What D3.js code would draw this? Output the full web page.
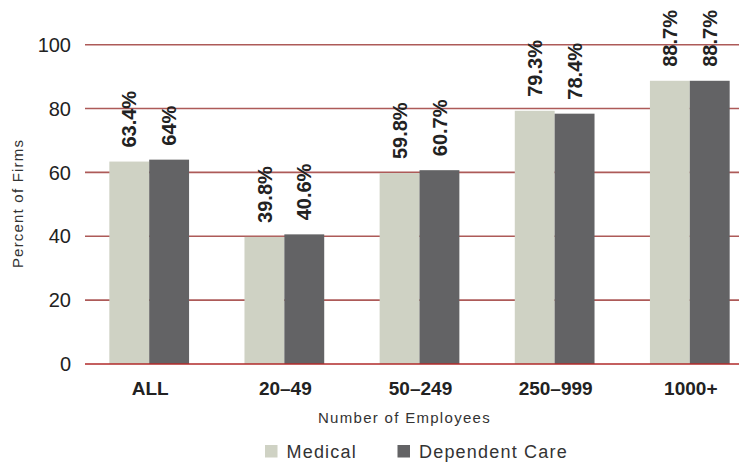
<!DOCTYPE html>
<html>
<head>
<meta charset="utf-8">
<script src="https://cdn.jsdelivr.net/npm/d3@7/dist/d3.min.js"></script>
<style>
  html, body { margin: 0; padding: 0; background: #fff; }
  svg { display: block; font-family: "Liberation Sans", Arial, Helvetica, sans-serif; }
</style>
</head>
<body>
<svg id="chart" width="739" height="464"></svg>
<script>
// Share of firms offering flexible spending accounts, by firm size
const categories = ["ALL", "20–49", "50–249", "250–999", "1000+"];
const seriesNames = ["Medical", "Dependent Care"];
const medical = [63.4, 39.8, 59.8, 79.3, 88.7];
const dependentCare = [64, 40.6, 60.7, 78.4, 88.7];
const yTicks = [0, 20, 40, 60, 80, 100];

const colors = { "Medical": "#cfd2c4", "Dependent Care": "#636365" };
const valuesBySeries = { "Medical": medical, "Dependent Care": dependentCare };

const svg = d3.select("#chart");
const W = 739;

const y = d3.scaleLinear().domain([0, 100]).range([364, 44.7]);

const x0 = d3.scaleBand()
  .domain(categories)
  .range([85, 754])
  .paddingInner(0.41)
  .paddingOuter(0.18);

const x1 = d3.scaleBand()
  .domain(seriesNames)
  .range([0, x0.bandwidth()])
  .padding(0);

// Horizontal grid lines (zero line drawn on top of bars later)
svg.append("g")
  .selectAll("line")
  .data(yTicks.filter(d => d !== 0))
  .join("line")
  .attr("x1", 85).attr("x2", W)
  .attr("y1", d => y(d)).attr("y2", d => y(d))
  .attr("stroke", "#ad5a58")
  .attr("stroke-width", 1.6);

// Y axis tick labels
svg.append("g")
  .selectAll("text")
  .data(yTicks)
  .join("text")
  .attr("x", 71)
  .attr("y", d => y(d))
  .attr("dy", "0.36em")
  .attr("text-anchor", "end")
  .attr("font-size", 20)
  .attr("fill", "#222")
  .text(d => d);

// Bars
const groups = svg.append("g")
  .selectAll("g")
  .data(categories)
  .join("g")
  .attr("transform", d => `translate(${x0(d)},0)`);

const barData = (cat, i) => seriesNames.map(s => ({ series: s, value: valuesBySeries[s][i] }));

groups.selectAll("rect")
  .data((d, i) => barData(d, i))
  .join("rect")
  .attr("x", d => x1(d.series))
  .attr("width", x1.bandwidth())
  .attr("y", d => y(d.value))
  .attr("height", d => y(0) - y(d.value))
  .attr("fill", d => colors[d.series]);

// Value labels, rotated above each bar
groups.selectAll("text")
  .data((d, i) => barData(d, i))
  .join("text")
  .attr("transform", d => `translate(${x1(d.series) + x1.bandwidth() / 2},${y(d.value) - 14}) rotate(-90)`)
  .attr("dy", "0.36em")
  .attr("text-anchor", "start")
  .attr("font-size", 20)
  .attr("font-weight", "bold")
  .attr("fill", "#222")
  .text(d => d.value + "%");

// Zero baseline
svg.append("line")
  .attr("x1", 85).attr("x2", W)
  .attr("y1", y(0)).attr("y2", y(0))
  .attr("stroke", "#b02a2a")
  .attr("stroke-width", 1.6);

// Category labels
svg.append("g")
  .selectAll("text")
  .data(categories)
  .join("text")
  .attr("x", d => x0(d) + x0.bandwidth() / 2 + 1)
  .attr("y", 395)
  .attr("text-anchor", "middle")
  .attr("font-size", 19)
  .attr("font-weight", "bold")
  .attr("fill", "#222")
  .text(d => d);

// Axis titles
svg.append("text")
  .attr("x", 404.5)
  .attr("y", 422.5)
  .attr("text-anchor", "middle")
  .attr("font-size", 15)
  .attr("letter-spacing", 1.3)
  .attr("fill", "#333")
  .text("Number of Employees");

svg.append("text")
  .attr("transform", "translate(23,203.5) rotate(-90)")
  .attr("text-anchor", "middle")
  .attr("font-size", 15)
  .attr("letter-spacing", 1.2)
  .attr("fill", "#333")
  .text("Percent of Firms");

// Legend
const legendX = [265, 397.5];
const legend = svg.append("g")
  .selectAll("g")
  .data(seriesNames)
  .join("g")
  .attr("transform", (d, i) => `translate(${legendX[i]},445)`);

legend.append("rect")
  .attr("width", 12.5).attr("height", 12.5)
  .attr("fill", d => colors[d]);

legend.append("text")
  .attr("x", 21.5)
  .attr("y", 12.7)
  .attr("font-size", 18)
  .attr("letter-spacing", 1.2)
  .attr("fill", "#333")
  .text(d => d);
</script>
</body>
</html>
